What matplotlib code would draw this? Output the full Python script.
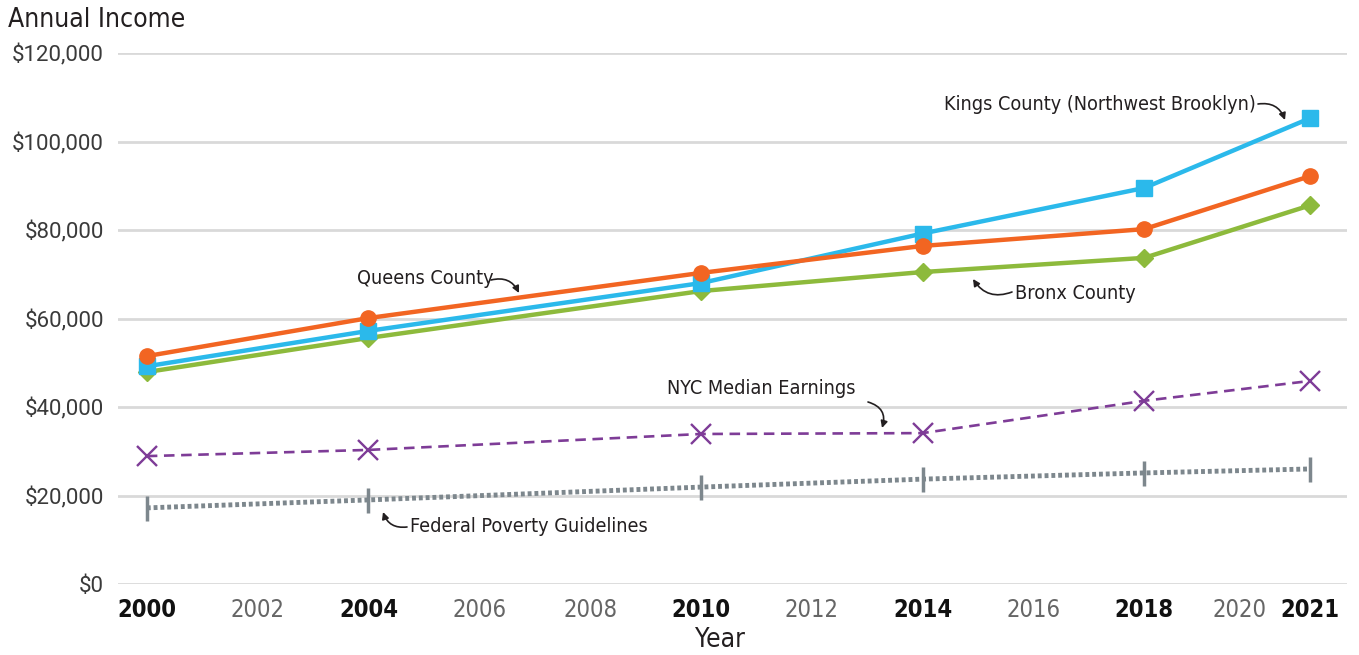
import matplotlib
matplotlib.use("Agg")
import matplotlib.pyplot as plt
import matplotlib.transforms as mtransforms
from matplotlib import font_manager

years = [2000, 2004, 2010, 2014, 2018, 2021]
kings = [49200, 57200, 68000, 79200, 89500, 105300]
queens = [51500, 60100, 70300, 76400, 80200, 92200]
bronx = [47900, 55600, 66200, 70500, 73700, 85600]
nyc_median = [28900, 30300, 33900, 34100, 41400, 45900]
poverty = [17200, 19000, 21900, 23700, 25100, 26000]

xticks = [2000, 2002, 2004, 2006, 2008, 2010, 2012, 2014, 2016, 2018, 2020, 2021]
yticks = [0, 20000, 40000, 60000, 80000, 100000, 120000]
ytick_labels = ["$0", "$20,000", "$40,000", "$60,000", "$80,000", "$100,000", "$120,000"]

names = {f.name for f in font_manager.fontManager.ttflist}
if "Liberation Sans Narrow" in names:
    COND = dict(family=["Liberation Sans Narrow", "DejaVu Sans"])
else:
    COND = dict(family=["DejaVu Sans"], stretch="condensed")
REG = dict(family=["Roboto", "DejaVu Sans"])

TXT = "#231F20"
BLUE = "#2BB9EB"
ORANGE = "#F26522"
GREEN = "#8DBA3C"
PURPLE = "#7E3C97"
GRAY = "#7D878D"

fig = plt.figure(figsize=(13.59, 6.55), dpi=100)
ax = fig.add_axes([118/1359, 1-584/655, (1347-118)/1359, (584-53)/655])

ax.set_xlim(1999.48, 2021.66)
ax.set_ylim(0, 120000)
for s in ax.spines.values():
    s.set_visible(False)
ax.set_yticks(yticks)
ax.set_yticklabels(ytick_labels, fontsize=16, color="#3A3A3A", **REG)
ax.grid(axis="y", color="#D9D9D9", linewidth=2)
ax.set_axisbelow(True)
ax.tick_params(axis="both", length=0)
ax.tick_params(axis="y", pad=10)
ax.tick_params(axis="x", pad=10)
ax.set_xticks(xticks)
ax.set_xticklabels([str(y) for y in xticks])
for lab, y in zip(ax.get_xticklabels(), xticks):
    lab.set_fontsize(17)
    lab.set_fontfamily(COND.get("family"))
    if "stretch" in COND:
        lab.set_fontstretch(COND["stretch"])
    if y in years:
        lab.set_fontweight("bold")
        lab.set_color("#111111")
    else:
        lab.set_color("#666666")
    if y == 2020:
        lab.set_transform(lab.get_transform() +
                          mtransforms.ScaledTranslation(-16/100, 0, fig.dpi_scale_trans))

ax.set_xlabel("Year", fontsize=19, color=TXT, **COND)
ax.xaxis.set_label_coords((720-118)/(1347-118), -(640-584)/(584-53))
ax.xaxis.label.set_va("center")

# lines
ax.plot(years, poverty, color=GRAY, linewidth=3.5, linestyle=(0, (0.8, 0.6)),
        marker="|", markersize=18, markeredgewidth=2.5, zorder=3)
ax.plot(years, nyc_median, color=PURPLE, linewidth=1.9, linestyle=(0, (4, 2.5)),
        marker="x", markersize=14, markeredgewidth=1.7, zorder=3)
ax.plot(years, bronx, color=GREEN, linewidth=3.2, marker="D", markersize=9, zorder=4)
ax.plot(years, kings, color=BLUE, linewidth=3.2, marker="s", markersize=11, zorder=5)
ax.plot(years, queens, color=ORANGE, linewidth=3.2, marker="o", markersize=11, zorder=6)

fig.text(8/1359, 1-20/655, "Annual Income", fontsize=19, color=TXT, va="center", ha="left", **COND)

def px(x, y):
    return (x/1359, 1-y/655)

arrow = dict(arrowstyle="-|>", color=TXT, linewidth=1.2, mutation_scale=10, shrinkA=0, shrinkB=0)

def note(text, text_xy, ha, start, end, rad):
    fig.text(*px(*text_xy), text, fontsize=14.2, color=TXT, ha=ha, va="center", **COND)
    a = dict(arrow)
    a["connectionstyle"] = f"arc3,rad={rad}"
    fig.add_artist(matplotlib.patches.FancyArrowPatch(px(*start), px(*end),
                   transform=fig.transFigure, **a))

note("Kings County (Northwest Brooklyn)", (1256, 104), "right", (1258, 104), (1285, 120), -0.4)
note("Queens County", (357, 279), "left", (491, 280), (519, 293), -0.4)
note("Bronx County", (1015, 293), "left", (1012, 292), (973, 279), -0.4)
note("NYC Median Earnings", (667, 389), "left", (868, 402), (882, 428), -0.5)
note("Federal Poverty Guidelines", (410, 527), "left", (407, 527), (383, 512), -0.4)

fig.savefig("out.png", dpi=100)
